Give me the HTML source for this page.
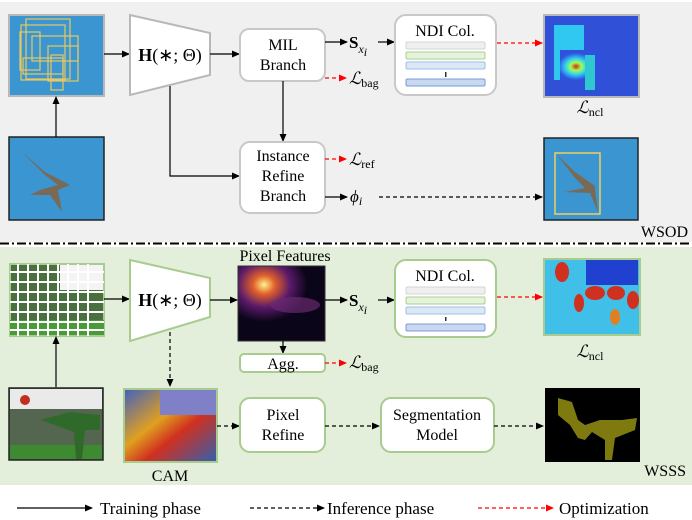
<!DOCTYPE html>
<html><head><meta charset="utf-8"><style>
html,body{margin:0;padding:0;background:#fff;}
svg{display:block;font-family:"Liberation Serif",serif;}
</style></head><body>
<svg width="692" height="520" viewBox="0 0 692 520" xmlns="http://www.w3.org/2000/svg">
<defs>
<marker id="a" markerWidth="8" markerHeight="8" refX="7" refY="4" orient="auto" markerUnits="userSpaceOnUse"><path d="M0,0.5 L8,4 L0,7.5z" fill="#000"/></marker>
<marker id="r" markerWidth="8" markerHeight="8" refX="7" refY="4" orient="auto" markerUnits="userSpaceOnUse"><path d="M0,0.5 L8,4 L0,7.5z" fill="#f00"/></marker>
<radialGradient id="pf" cx="0.3" cy="0.25" r="0.5"><stop offset="0" stop-color="#fff38a"/><stop offset="0.25" stop-color="#e0602a"/><stop offset="0.6" stop-color="#5a1a6a"/><stop offset="1" stop-color="#0a0518"/></radialGradient>
<radialGradient id="hm" cx="0.4" cy="0.55" r="0.45"><stop offset="0" stop-color="#e02020"/><stop offset="0.3" stop-color="#a0ff50"/><stop offset="0.6" stop-color="#30d0f0"/><stop offset="1" stop-color="#3050e0"/></radialGradient>
<linearGradient id="cam" x1="0" y1="0" x2="1" y2="1"><stop offset="0" stop-color="#4060c0"/><stop offset="0.4" stop-color="#e0a020"/><stop offset="0.6" stop-color="#d03020"/><stop offset="1" stop-color="#3060b0"/></linearGradient>
</defs>
<rect x="0" y="2" width="692" height="240" fill="#f0f0f0"/>
<rect x="0" y="247" width="692" height="238" fill="#e3eedb"/>
<line x1="0" y1="243.5" x2="692" y2="243.5" stroke="#000" stroke-width="2" stroke-dasharray="9,3,2,3"/>

<!-- TOP -->
<rect x="9" y="15" width="95" height="81" fill="#3a95d0" stroke="#b8b8b8" stroke-width="2"/>
<g fill="none" stroke="#e8c860" stroke-width="1.2">
<rect x="21" y="25" width="44" height="55"/><rect x="26" y="19" width="44" height="60"/><rect x="32" y="36" width="46" height="25"/><rect x="48" y="46" width="30" height="35"/><rect x="23" y="58" width="40" height="16"/><rect x="51" y="55" width="12" height="35"/><rect x="20" y="32" width="20" height="38"/>
</g>
<rect x="9" y="137" width="95" height="83" fill="#3a95d0" stroke="#222" stroke-width="1.5"/>
<path d="M22,152 L45,175 L58,185 L40,190 L30,195 L50,195 L62,212 L58,190 L70,185 L45,172z" fill="#7a6a55"/>
<line x1="56" y1="137" x2="56" y2="97" stroke="#000" stroke-width="1.2" marker-end="url(#a)"/>
<line x1="104" y1="54" x2="129" y2="54" stroke="#000" stroke-width="1.2" marker-end="url(#a)"/>
<path d="M130,15 L210,33 L210,75 L130,95z" fill="#fff" stroke="#b8b8b8" stroke-width="2"/>
<text x="170" y="61" font-size="18" text-anchor="middle"><tspan font-weight="bold">H</tspan>(∗; Θ)</text>
<line x1="210" y1="54" x2="239" y2="54" stroke="#000" stroke-width="1.2" marker-end="url(#a)"/>
<rect x="240" y="29" width="85" height="52" rx="9" fill="#fff" stroke="#c8c8c8" stroke-width="2"/>
<text x="283" y="50" font-size="16" text-anchor="middle">MIL</text>
<text x="283" y="70" font-size="16" text-anchor="middle">Branch</text>
<line x1="325" y1="42" x2="347" y2="42" stroke="#000" stroke-width="1.2" marker-end="url(#a)"/>
<text x="349" y="48" font-size="17"><tspan font-weight="bold">S</tspan><tspan font-style="italic" font-size="12" dy="5">x</tspan><tspan font-style="italic" font-size="12" dy="3">i</tspan></text>
<line x1="378" y1="42" x2="394" y2="42" stroke="#000" stroke-width="1.2" marker-end="url(#a)"/>
<line x1="325" y1="78" x2="346" y2="78" stroke="#f00" stroke-width="1.2" stroke-dasharray="4,3" marker-end="url(#r)"/>
<text x="349" y="84" font-size="17" font-style="italic">ℒ<tspan font-style="normal" font-size="12" dy="3">bag</tspan></text>
<line x1="283" y1="81" x2="283" y2="141" stroke="#000" stroke-width="1.2" marker-end="url(#a)"/>
<polyline points="170,86 170,176 239,176" fill="none" stroke="#000" stroke-width="1.2" marker-end="url(#a)"/>
<rect x="240" y="142" width="85" height="71" rx="10" fill="#fff" stroke="#c8c8c8" stroke-width="2"/>
<text x="283" y="161" font-size="16" text-anchor="middle">Instance</text>
<text x="283" y="181" font-size="16" text-anchor="middle">Refine</text>
<text x="283" y="201" font-size="16" text-anchor="middle">Branch</text>
<line x1="325" y1="159" x2="346" y2="159" stroke="#f00" stroke-width="1.2" stroke-dasharray="4,3" marker-end="url(#r)"/>
<text x="349" y="165" font-size="17" font-style="italic">ℒ<tspan font-style="normal" font-size="12" dy="3">ref</tspan></text>
<line x1="325" y1="197" x2="347" y2="197" stroke="#000" stroke-width="1.2" marker-end="url(#a)"/>
<text x="350" y="202" font-size="17" font-style="italic">ϕ<tspan font-size="12" dy="3">i</tspan></text>
<line x1="379" y1="197" x2="542" y2="197" stroke="#000" stroke-width="1.2" stroke-dasharray="4,3" marker-end="url(#a)"/>
<rect x="395" y="15" width="101" height="80" rx="11" fill="#fff" stroke="#c8c8c8" stroke-width="2"/>
<text x="445" y="36" font-size="16" text-anchor="middle">NDI Col.</text>
<rect x="406" y="42" width="79" height="7" rx="1.5" fill="#efefef" stroke="#d4d4d4"/>
<rect x="406" y="52" width="79" height="7" rx="1.5" fill="#e6f3dc" stroke="#a8d08c"/>
<rect x="406" y="62" width="79" height="7" rx="1.5" fill="#dce8f6" stroke="#9dbfe6"/>
<rect x="445" y="72" width="1.5" height="5" fill="#333"/>
<rect x="406" y="79" width="79" height="7" rx="1.5" fill="#c8d8f0" stroke="#7a9ad6"/>
<line x1="497" y1="43" x2="542" y2="43" stroke="#f00" stroke-width="1.2" stroke-dasharray="4,3" marker-end="url(#r)"/>
<rect x="544" y="15" width="95" height="82" fill="#3050d8" stroke="#b8b8b8" stroke-width="2"/>
<rect x="554" y="25" width="30" height="55" fill="#30c8f0"/>
<rect x="560" y="50" width="40" height="30" fill="url(#hm)"/>
<rect x="585" y="55" width="10" height="35" fill="#30c8d0"/>
<text x="590" y="113" font-size="17" text-anchor="middle" font-style="italic">ℒ<tspan font-style="normal" font-size="12" dy="3">ncl</tspan></text>
<rect x="544" y="138" width="94" height="82" fill="#3a95d0" stroke="#222" stroke-width="1.5"/>
<path d="M557,155 L575,178 L585,188 L565,192 L590,193 L598,212 L595,190 L595,186 L575,172z" fill="#7a6a55"/>
<rect x="555" y="153" width="45" height="61" fill="none" stroke="#f0d060" stroke-width="1.5"/>
<text x="688" y="237" font-size="16" text-anchor="end">WSOD</text>

<!-- BOTTOM -->
<rect x="10" y="264" width="94" height="72" fill="#4a7040" stroke="#a8cc90" stroke-width="2"/>
<rect x="60" y="265" width="43" height="25" fill="#f4f4f4"/>
<rect x="10" y="320" width="94" height="15" fill="#4a9a3a"/>
<g stroke="#fff" stroke-width="2">
<line x1="18" y1="264" x2="18" y2="336"/><line x1="28" y1="264" x2="28" y2="336"/><line x1="38" y1="264" x2="38" y2="336"/><line x1="48" y1="264" x2="48" y2="336"/><line x1="58" y1="264" x2="58" y2="336"/><line x1="68" y1="264" x2="68" y2="336"/><line x1="78" y1="264" x2="78" y2="336"/><line x1="88" y1="264" x2="88" y2="336"/>
<line x1="10" y1="272" x2="104" y2="272"/><line x1="10" y1="282" x2="104" y2="282"/><line x1="10" y1="292" x2="104" y2="292"/><line x1="10" y1="302" x2="104" y2="302"/><line x1="10" y1="312" x2="104" y2="312"/><line x1="10" y1="322" x2="104" y2="322"/><line x1="10" y1="330" x2="104" y2="330"/>
</g>
<rect x="9" y="388" width="94" height="72" fill="#556650" stroke="#222" stroke-width="1.5"/>
<rect x="10" y="389" width="92" height="20" fill="#eaeaea"/>
<rect x="10" y="445" width="92" height="14" fill="#3e8a30"/>
<path d="M40,420 L70,412 L100,415 L100,430 L85,430 L82,459 L76,459 L74,432 L55,425z" fill="#2f6a2a"/>
<circle cx="25" cy="400" r="5" fill="#c03020"/>
<line x1="56" y1="387" x2="56" y2="337" stroke="#000" stroke-width="1.2" marker-end="url(#a)"/>
<line x1="104" y1="299" x2="129" y2="299" stroke="#000" stroke-width="1.2" marker-end="url(#a)"/>
<path d="M130,260 L210,278 L210,317 L130,341z" fill="#fff" stroke="#a8cc90" stroke-width="2"/>
<text x="170" y="306" font-size="18" text-anchor="middle"><tspan font-weight="bold">H</tspan>(∗; Θ)</text>
<line x1="210" y1="300" x2="237" y2="300" stroke="#000" stroke-width="1.2" marker-end="url(#a)"/>
<text x="285" y="261" font-size="16" text-anchor="middle">Pixel Features</text>
<rect x="238" y="266" width="87" height="75" fill="url(#pf)" stroke="#333" stroke-width="1"/>
<ellipse cx="295" cy="305" rx="25" ry="8" fill="#6a2a70" opacity="0.7"/>
<line x1="325" y1="300" x2="347" y2="300" stroke="#000" stroke-width="1.2" marker-end="url(#a)"/>
<text x="349" y="306" font-size="17"><tspan font-weight="bold">S</tspan><tspan font-style="italic" font-size="12" dy="5">x</tspan><tspan font-style="italic" font-size="12" dy="3">i</tspan></text>
<line x1="378" y1="300" x2="394" y2="300" stroke="#000" stroke-width="1.2" marker-end="url(#a)"/>
<line x1="283" y1="341" x2="283" y2="353" stroke="#000" stroke-width="1.2" marker-end="url(#a)"/>
<rect x="240" y="354" width="85" height="18" rx="4" fill="#fff" stroke="#a8cc90" stroke-width="2"/>
<text x="283" y="369" font-size="16" text-anchor="middle">Agg.</text>
<line x1="325" y1="363" x2="346" y2="363" stroke="#f00" stroke-width="1.2" stroke-dasharray="4,3" marker-end="url(#r)"/>
<text x="349" y="368" font-size="17" font-style="italic">ℒ<tspan font-style="normal" font-size="12" dy="3">bag</tspan></text>
<line x1="170" y1="332" x2="170" y2="386" stroke="#000" stroke-width="1.2" stroke-dasharray="4,3" marker-end="url(#a)"/>
<rect x="124" y="389" width="93" height="73" fill="url(#cam)" stroke="#a8cc90" stroke-width="2"/>
<rect x="160" y="390" width="56" height="25" fill="#8080c8"/>
<text x="170" y="481" font-size="16" text-anchor="middle">CAM</text>
<line x1="217" y1="426" x2="239" y2="426" stroke="#000" stroke-width="1.2" stroke-dasharray="4,3" marker-end="url(#a)"/>
<rect x="240" y="398" width="85" height="54" rx="10" fill="#fff" stroke="#a8cc90" stroke-width="2"/>
<text x="283" y="420" font-size="16" text-anchor="middle">Pixel</text>
<text x="283" y="440" font-size="16" text-anchor="middle">Refine</text>
<line x1="325" y1="426" x2="379" y2="426" stroke="#000" stroke-width="1.2" stroke-dasharray="4,3" marker-end="url(#a)"/>
<rect x="381" y="398" width="113" height="54" rx="10" fill="#fff" stroke="#a8cc90" stroke-width="2"/>
<text x="437" y="420" font-size="16" text-anchor="middle">Segmentation</text>
<text x="437" y="440" font-size="16" text-anchor="middle">Model</text>
<line x1="494" y1="426" x2="543" y2="426" stroke="#000" stroke-width="1.2" stroke-dasharray="4,3" marker-end="url(#a)"/>
<rect x="545" y="388" width="95" height="74" fill="#000"/>
<path d="M558,398 L572,402 L578,420 L585,425 L600,420 L622,420 L637,418 L635,430 L615,438 L612,460 L605,460 L605,440 L592,432 L585,440 L578,438 L570,425 L558,415z" fill="#7e7a10"/>
<rect x="395" y="260" width="101" height="77" rx="11" fill="#fff" stroke="#a8cc90" stroke-width="2"/>
<text x="445" y="281" font-size="16" text-anchor="middle">NDI Col.</text>
<rect x="406" y="287" width="79" height="7" rx="1.5" fill="#efefef" stroke="#d4d4d4"/>
<rect x="406" y="297" width="79" height="7" rx="1.5" fill="#e6f3dc" stroke="#a8d08c"/>
<rect x="406" y="307" width="79" height="7" rx="1.5" fill="#dce8f6" stroke="#9dbfe6"/>
<rect x="445" y="317" width="1.5" height="4" fill="#333"/>
<rect x="406" y="324" width="79" height="7" rx="1.5" fill="#c8d8f0" stroke="#7a9ad6"/>
<line x1="497" y1="297" x2="542" y2="297" stroke="#f00" stroke-width="1.2" stroke-dasharray="4,3" marker-end="url(#r)"/>
<rect x="544" y="259" width="96" height="76" fill="#40c0e8" stroke="#a8cc90" stroke-width="2"/>
<rect x="586" y="260" width="52" height="25" fill="#2040d0"/>
<ellipse cx="562" cy="272" rx="7" ry="10" fill="#d03020"/>
<ellipse cx="595" cy="293" rx="10" ry="7" fill="#d03020"/>
<ellipse cx="616" cy="293" rx="9" ry="7" fill="#d03020"/>
<ellipse cx="633" cy="300" rx="6" ry="9" fill="#d03020"/>
<ellipse cx="579" cy="303" rx="5" ry="9" fill="#d03020"/>
<ellipse cx="615" cy="317" rx="5" ry="8" fill="#e08020"/>
<text x="590" y="357" font-size="17" text-anchor="middle" font-style="italic">ℒ<tspan font-style="normal" font-size="12" dy="3">ncl</tspan></text>
<text x="686" y="476" font-size="16" text-anchor="end">WSSS</text>

<!-- LEGEND -->
<line x1="17" y1="508" x2="92" y2="508" stroke="#000" stroke-width="1.2" marker-end="url(#a)"/>
<text x="100" y="514" font-size="17">Training phase</text>
<line x1="250" y1="508" x2="324" y2="508" stroke="#000" stroke-width="1.2" stroke-dasharray="4,3" marker-end="url(#a)"/>
<text x="327" y="514" font-size="17">Inference phase</text>
<line x1="478" y1="508" x2="553" y2="508" stroke="#f00" stroke-width="1.2" stroke-dasharray="4,3" marker-end="url(#r)"/>
<text x="559" y="514" font-size="17">Optimization</text>
</svg>
</body></html>
